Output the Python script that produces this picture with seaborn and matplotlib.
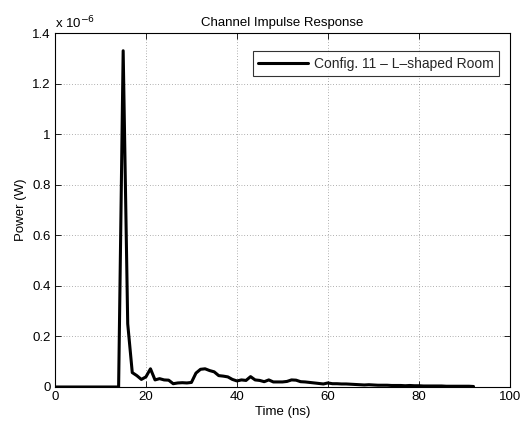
import numpy as np
import pandas as pd
import seaborn as sns
import matplotlib
matplotlib.use("Agg")
import matplotlib.pyplot as plt

# Time axis (ns) and power (in units of 1e-6 W)
time_ns = list(range(0, 93))
power_uW = [0.0] * 15 + [
    1.33, 0.25, 0.057, 0.045, 0.030, 0.040, 0.072, 0.028, 0.033, 0.028,   # 15-24
    0.027, 0.013, 0.016, 0.017, 0.016, 0.018, 0.055, 0.070, 0.072, 0.065,  # 25-34
    0.060, 0.045, 0.043, 0.040, 0.030, 0.024, 0.028, 0.026, 0.041, 0.028,  # 35-44
    0.026, 0.021, 0.028, 0.020, 0.020, 0.020, 0.022, 0.028, 0.027, 0.021,  # 45-54
    0.020, 0.018, 0.016, 0.014, 0.012, 0.016, 0.013, 0.013, 0.012, 0.012,  # 55-64
    0.011, 0.010, 0.009, 0.008, 0.009, 0.008, 0.007, 0.007, 0.007, 0.006,  # 65-74
    0.006, 0.006, 0.005, 0.006, 0.005, 0.005, 0.004, 0.004, 0.004, 0.004,  # 75-84
    0.004, 0.003, 0.003, 0.003, 0.003, 0.003, 0.003, 0.002,                # 85-92
]
series_label = "Config. 11 \u2013 L\u2013shaped Room"
x_ticks = [0, 20, 40, 60, 80, 100]
y_ticks = [0, 0.2, 0.4, 0.6, 0.8, 1.0, 1.2, 1.4]
y_tick_labels = ["0", "0.2", "0.4", "0.6", "0.8", "1", "1.2", "1.4"]

df = pd.DataFrame({"Time (ns)": time_ns, "Power": power_uW,
                   "series": [series_label] * len(time_ns)})

sns.set_theme(style="white")
plt.rcParams["font.family"] = ["Liberation Sans", "DejaVu Sans"]
plt.rcParams["font.size"] = 9.5

fs = 9.5
fig = plt.figure(figsize=(5.23, 4.28), dpi=100)
ax = fig.add_axes([0.105, 0.0958, 0.870, 0.827])

sns.lineplot(data=df, x="Time (ns)", y="Power", hue="series",
             palette=["black"], linewidth=2.2, ax=ax)

ax.set_xlim(0, 100)
ax.set_ylim(0, 1.4)
ax.set_xticks(x_ticks)
ax.set_xticklabels([str(t) for t in x_ticks])
ax.set_yticks(y_ticks)
ax.set_yticklabels(y_tick_labels)
ax.tick_params(direction="in", length=4, width=0.6, colors="black",
               labelsize=fs, top=True, right=True, bottom=True, left=True, pad=3)
ax.grid(True, linestyle=(0, (1, 3)), color="black", linewidth=0.5, alpha=0.6)
for sp in ax.spines.values():
    sp.set_color("black")
    sp.set_linewidth(0.8)

ax.set_xlabel("Time (ns)", fontsize=fs, color="black", labelpad=2)
ax.set_ylabel("Power (W)", fontsize=fs, color="black", labelpad=4)
ax.set_title("Channel Impulse Response", fontsize=fs, color="black", pad=5)
ax.text(0.0, 1.005, r"x 10$^{-6}$", transform=ax.transAxes, fontsize=fs,
        ha="left", va="bottom", color="black")

leg = ax.legend(loc="upper right", bbox_to_anchor=(0.976, 0.949), fontsize=10,
                frameon=True, fancybox=False, edgecolor="black",
                handlelength=3.6, borderpad=0.4, handletextpad=0.4,
                borderaxespad=0.0)
leg.get_frame().set_linewidth(0.8)

fig.savefig("out.png", dpi=100)
